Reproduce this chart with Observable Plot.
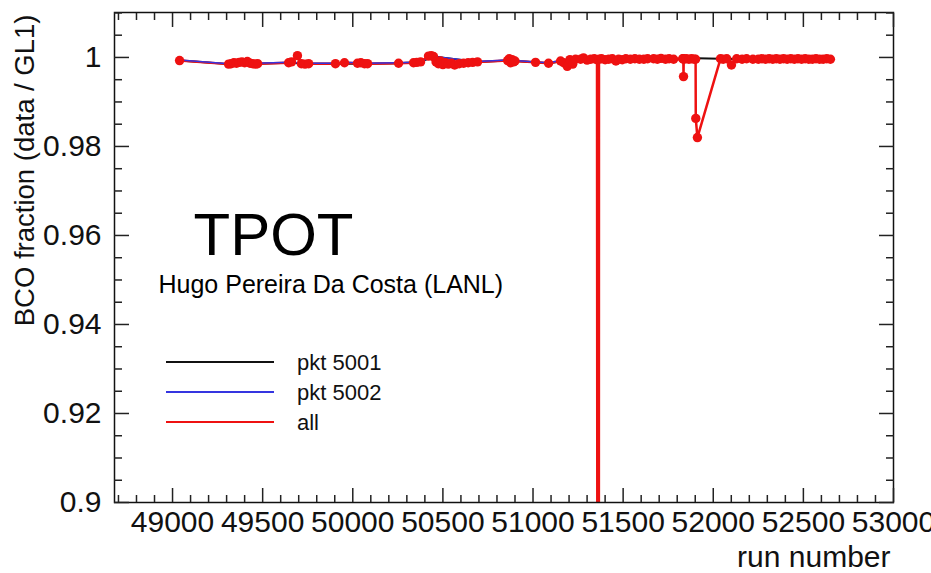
<!DOCTYPE html>
<html>
<head>
<meta charset="utf-8">
<script src="https://cdn.jsdelivr.net/npm/d3@7"></script>
<script src="https://cdn.jsdelivr.net/npm/@observablehq/plot@0.6"></script>
<style>
  html, body { margin: 0; padding: 0; background: #ffffff; }
  #chart svg { font-family: "Liberation Sans", Arial, Helvetica, sans-serif; display: block; }
</style>
</head>
<body>
<div id="chart"></div>
<script>
// ---- data ----
const allRuns = [
  49039,
  49311, 49325, 49340, 49355, 49370, 49385, 49400, 49415, 49430, 49445, 49460, 49472,
  49644, 49660, 49693, 49715, 49735, 49755,
  49904, 49954,
  50026, 50045, 50065, 50082,
  50254,
  50337, 50355, 50376,
  50420, 50435, 50448, 50462, 50475, 50487, 50500, 50515, 50530, 50548, 50565, 50590, 50615, 50640, 50665, 50692,
  50859, 50868, 50876, 50884, 50892, 50900,
  51014, 51086,
  51153, 51170, 51190, 51205, 51220, 51236,
  51264, 51280, 51300, 51320, 51340, 51355, 51363, 51366, 51380, 51400, 51420, 51440, 51460, 51475, 51495, 51515, 51540, 51565, 51590, 51615, 51636,
  51669, 51690, 51710, 51735, 51755, 51780,
  51830, 51834, 51835, 51836, 51850, 51865, 51880, 51895, 51902, 51903, 51912,
  52040, 52055, 52075, 52101, 52130, 52160, 52185, 52220, 52250, 52270, 52290, 52310, 52330, 52350, 52370, 52390,
  52410, 52430, 52450, 52470, 52490, 52510, 52530, 52550, 52570, 52590, 52610, 52630, 52650
];
const allValues = [
  0.9993,
  0.9985, 0.9986, 0.9988, 0.9987, 0.9989, 0.9990, 0.9988, 0.9991, 0.9987, 0.9986, 0.9985, 0.9986,
  0.9988, 0.9990, 1.0004, 0.9986, 0.9985, 0.9986,
  0.9986, 0.9988,
  0.9987, 0.9988, 0.9986, 0.9986,
  0.9987,
  0.9988, 0.9989, 0.9990,
  1.0003, 1.0004, 1.0002, 0.9990, 0.9986, 0.9992, 0.9984, 0.9988, 0.9985, 0.9987, 0.9983, 0.9986, 0.9987, 0.9988, 0.9989, 0.9990,
  0.9993, 0.9997, 0.9988, 0.9995, 0.9990, 0.9992,
  0.9989, 0.9987,
  0.9992, 0.9988, 0.9980, 0.9995, 0.9985, 0.9996,
  0.9996, 0.9999, 0.9994, 0.9996, 0.9997, 0.9995, 0.5, 0.9996, 0.9997, 0.9995, 0.9996, 0.9997, 0.9992, 0.9996, 0.9995, 0.9997, 0.9996, 0.9997, 0.9996, 0.9996, 0.9997,
  0.9997, 0.9996, 0.9998, 0.9996, 0.9997, 0.9996,
  0.9997, 0.9997, 0.9957, 0.9996, 0.9997, 0.9996, 0.9997, 0.9996, 0.9996, 0.9863, 0.9820,
  0.9997, 0.9996, 0.9997, 0.9983, 0.9997, 0.9996, 0.9997, 0.9996, 0.9996, 0.9997, 0.9996, 0.9997, 0.9996, 0.9997, 0.9996, 0.9997,
  0.9996, 0.9997, 0.9996, 0.9997, 0.9996, 0.9997, 0.9996, 0.9996, 0.9997, 0.9996, 0.9996, 0.9997, 0.9996
];
const pkt5001Runs = [49039, 49311, 49472, 49644, 49755, 49904, 50082, 50254, 50376, 50448, 50692, 50859, 50900, 51086, 51236, 51355, 51366, 51636, 51780, 51895, 51902, 51912, 52040, 52250, 52650];
const pkt5001Values = [0.9993, 0.9985, 0.9986, 0.9988, 0.9986, 0.9986, 0.9986, 0.9987, 0.9990, 1.0002, 0.9990, 0.9993, 0.9992, 0.9987, 0.9996, 0.9995, 0.9996, 0.9997, 0.9996, 0.9997, 0.9998, 0.9998, 0.9997, 0.9996, 0.9996];
const pkt5002Runs = [49039, 49311, 49472, 49644, 49755, 49904, 49954, 50026, 50082, 50254, 50337, 50376, 50448, 50692, 50859, 50900, 51014, 51086, 51153, 51236];
const pkt5002Values = [0.9994, 0.9986, 0.9987, 0.9989, 0.9987, 0.9987, 0.9989, 0.9988, 0.9987, 0.9988, 0.9989, 0.9991, 1.0002, 0.9991, 0.9994, 0.9993, 0.9990, 0.9988, 0.9993, 0.9997];

const seriesNames = ["pkt 5001", "pkt 5002", "all"];
const seriesColors = ["#111111", "#3535e0", "#ee1111"];

const xMajorTicks = [49000, 49500, 50000, 50500, 51000, 51500, 52000, 52500, 53000];
const yMajorTicks = [0.9, 0.92, 0.94, 0.96, 0.98, 1];
const xDomain = [48678, 53000];
const yDomain = [0.9, 1.0101];

const yTitle = "BCO fraction (data / GL1)";
const xTitle = "run number";
const bigLabel = "TPOT";
const authorLabel = "Hugo Pereira Da Costa (LANL)";

// ---- tables ----
const allData = allRuns.map((r, i) => ({run: r, value: allValues[i]}));
const p1Data = pkt5001Runs.map((r, i) => ({run: r, value: pkt5001Values[i]}));
const p2Data = pkt5002Runs.map((r, i) => ({run: r, value: pkt5002Values[i]}));
const xMinorTicks = d3.range(48700, 53001, 100).filter(v => !xMajorTicks.includes(v));
const yMinorTicks = d3.range(0, 23).map(i => +(0.9 + i * 0.005).toFixed(3)).filter(v => v <= yDomain[1] && !yMajorTicks.some(m => Math.abs(m - v) < 1e-9));

const tickColor = "#222";
const blank = () => "";
const tk = {tickFormat: blank, label: null, stroke: tickColor, strokeWidth: 1.5};

const plot = Plot.plot({
  width: 931,
  height: 573,
  marginLeft: 114,
  marginRight: 38,
  marginTop: 12,
  marginBottom: 71,
  x: {domain: xDomain},
  y: {domain: yDomain},
  style: {background: "#ffffff", color: "#111"},
  marks: [
    // series
    Plot.line(p1Data, {x: "run", y: "value", stroke: seriesColors[0], strokeWidth: 2, clip: true}),
    Plot.line(allData, {x: "run", y: "value", stroke: seriesColors[2], strokeWidth: 2.5, clip: true}),
    Plot.line(p2Data, {x: "run", y: "value", stroke: seriesColors[1], strokeWidth: 1.5, clip: true}),
    Plot.dot(allData, {x: "run", y: "value", r: 4.7, fill: seriesColors[2], stroke: null, clip: true}),
    // frame
    Plot.frame({stroke: "#111", strokeWidth: 1.5}),
    // inward ticks
    Plot.axisX({anchor: "bottom", ticks: xMajorTicks, tickSize: -14, ...tk}),
    Plot.axisX({anchor: "bottom", ticks: xMinorTicks, tickSize: -7, ...tk}),
    Plot.axisX({anchor: "top", ticks: xMajorTicks, tickSize: -14, ...tk}),
    Plot.axisX({anchor: "top", ticks: xMinorTicks, tickSize: -7, ...tk}),
    Plot.axisY({anchor: "left", ticks: yMajorTicks, tickSize: -15, ...tk}),
    Plot.axisY({anchor: "left", ticks: yMinorTicks, tickSize: -8, ...tk}),
    Plot.axisY({anchor: "right", ticks: yMajorTicks, tickSize: -15, ...tk}),
    Plot.axisY({anchor: "right", ticks: yMinorTicks, tickSize: -8, ...tk}),
    // tick labels
    Plot.axisX({anchor: "bottom", ticks: xMajorTicks, tickSize: 0, tickPadding: 8, tickFormat: d => String(d), fontSize: 30, label: null, fill: "#111"}),
    Plot.axisY({anchor: "left", ticks: yMajorTicks, tickSize: 0, tickPadding: 13, tickFormat: d => String(+d.toFixed(2)), fontSize: 30, label: null, fill: "#111"}),
    // titles
    Plot.text([yTitle], {frameAnchor: "top-left", rotate: -90, textAnchor: "end", lineAnchor: "middle", dx: -89, dy: 2, fontSize: 27.5, fill: "#111"}),
    Plot.text([xTitle], {frameAnchor: "bottom-right", textAnchor: "end", lineAnchor: "middle", dx: -3, dy: 55, fontSize: 30, fill: "#111"}),
    Plot.text([bigLabel], {frameAnchor: "top-left", textAnchor: "start", lineAnchor: "top", dx: 79, dy: 200, fontSize: 60, fill: "#000"}),
    Plot.text([authorLabel], {frameAnchor: "top-left", textAnchor: "start", lineAnchor: "top", dx: 44, dy: 263, fontSize: 25, fill: "#000"})
  ]
});

// legend inside the frame
const svg = d3.select(plot);
const lg = svg.append("g").attr("class", "legend").attr("text-anchor", "start");
seriesNames.forEach((name, i) => {
  const y = 362 + i * 30;
  lg.append("line").attr("x1", 166).attr("x2", 274).attr("y1", y).attr("y2", y)
    .attr("stroke", seriesColors[i]).attr("stroke-width", 2.2);
  lg.append("text").attr("x", 297).attr("y", y).attr("dy", "0.35em")
    .attr("font-size", 22).attr("fill", "#111").text(name);
});

document.getElementById("chart").appendChild(plot);
</script>
</body>
</html>
